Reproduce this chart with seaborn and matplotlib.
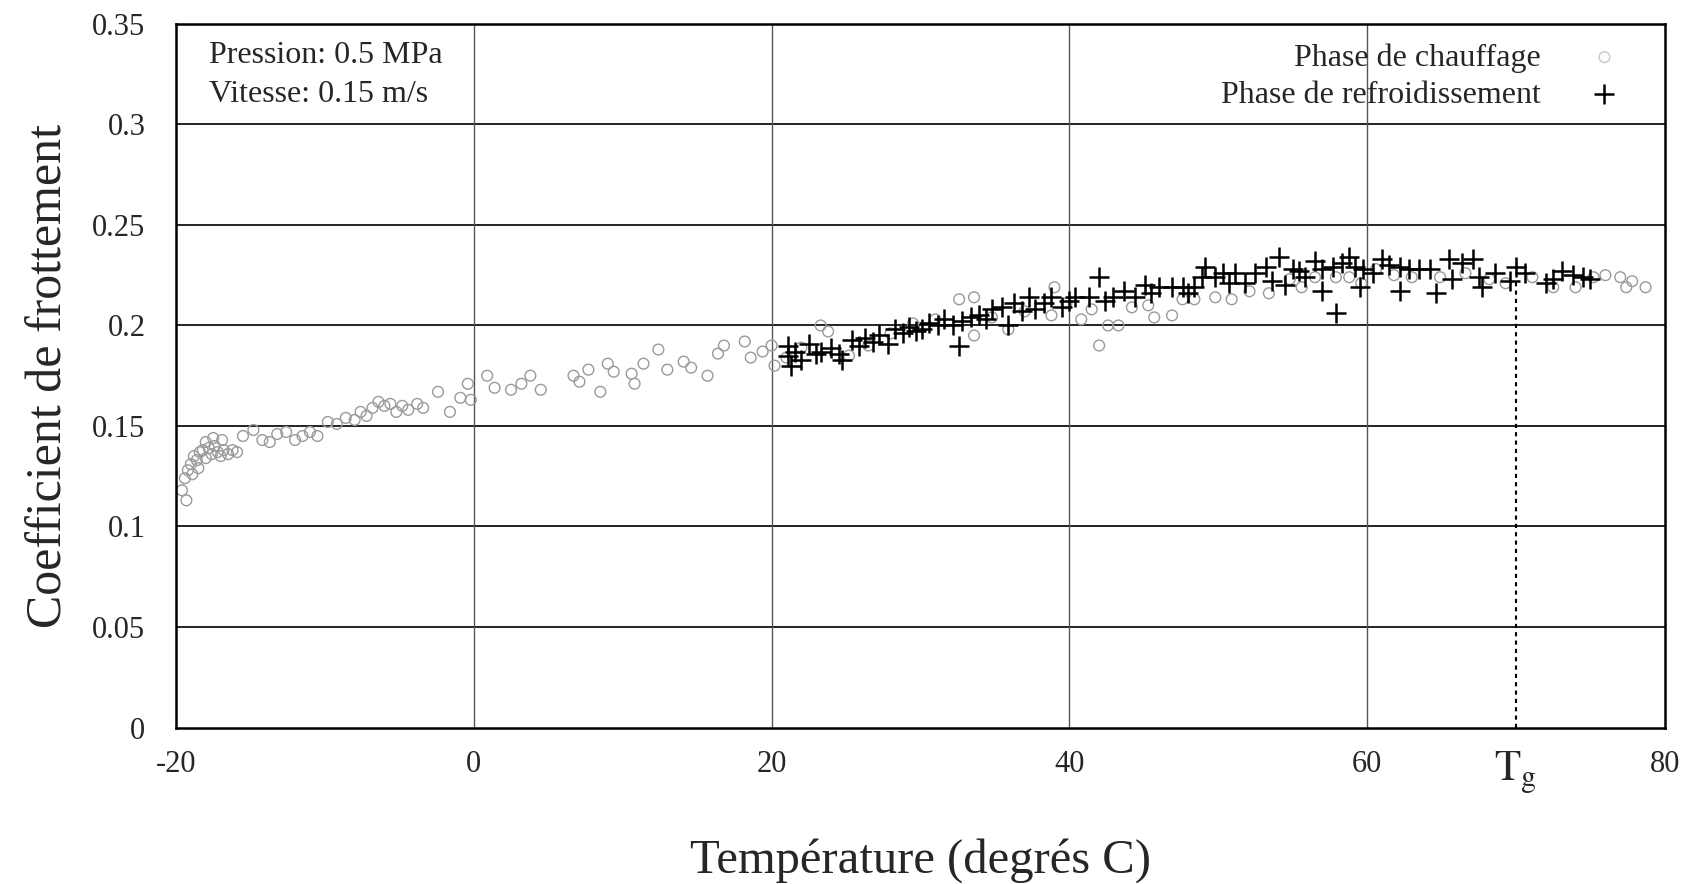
import matplotlib
matplotlib.use("Agg")
import matplotlib.pyplot as plt
import seaborn as sns
import pandas as pd

# heating phase (open gray markers)
heat_T = [-19.6, -19.4, -19.2, -19.0, -18.8, -18.6, -18.4, -18.2, -18.0, -17.8, -17.6, -17.4,
          -17.2, -17.0, -16.8, -16.5, -16.2, -15.9, -19.3, -18.9, -18.5, -18.0, -17.5, -16.9,
          -15.5, -14.8, -14.2, -13.7, -13.2, -12.6, -12.0, -11.5, -11.0, -10.5,
          -9.8, -9.2, -8.6, -8.0, -7.6, -7.2, -6.8, -6.4, -6.0, -5.6, -5.2, -4.8,
          -4.4, -3.8, -3.4, -2.4, -1.6, -0.9, -0.4, -0.2,
          0.9, 1.4, 2.5, 3.2, 3.8, 4.5, 6.7, 7.1, 7.7, 8.5, 9.0, 9.4, 10.6, 10.8, 11.4, 12.4,
          13.0, 14.1, 14.6, 15.7, 16.4, 16.8, 18.2, 18.6, 19.4, 20.0, 20.2,
          21.0, 22.0, 23.3, 23.8, 25.2, 26.5, 28.0, 29.5, 31.0, 32.6, 33.6, 33.6, 34.8, 35.9,
          37.0, 38.8, 39.0, 39.8,
          40.8, 41.5, 42.0, 42.6, 43.3, 44.2, 45.3, 45.7, 46.9, 47.6, 48.4, 49.8, 50.9, 52.1,
          53.4, 54.8, 55.6, 56.5, 57.9, 58.8, 59.6,
          60.6, 61.8, 63.0, 64.9, 66.6, 68.2, 69.3, 71.1, 72.5, 74.0, 75.2, 76.0, 77.0, 77.4,
          77.8, 78.7]
heat_f = [0.118, 0.124, 0.128, 0.131, 0.135, 0.133, 0.137, 0.138, 0.134, 0.139, 0.136, 0.140,
          0.137, 0.135, 0.138, 0.136, 0.138, 0.137, 0.113, 0.126, 0.129, 0.142, 0.144, 0.143,
          0.145, 0.148, 0.143, 0.142, 0.146, 0.147, 0.143, 0.145, 0.147, 0.145,
          0.152, 0.151, 0.154, 0.153, 0.157, 0.155, 0.159, 0.162, 0.160, 0.161, 0.157, 0.160,
          0.158, 0.161, 0.159, 0.167, 0.157, 0.164, 0.171, 0.163,
          0.175, 0.169, 0.168, 0.171, 0.175, 0.168, 0.175, 0.172, 0.178, 0.167, 0.181, 0.177,
          0.176, 0.171, 0.181, 0.188,
          0.178, 0.182, 0.179, 0.175, 0.186, 0.190, 0.192, 0.184, 0.187, 0.190, 0.180,
          0.184, 0.189, 0.200, 0.197, 0.185, 0.190, 0.196, 0.201, 0.203, 0.213, 0.214, 0.195,
          0.204, 0.198, 0.207, 0.205, 0.219, 0.211,
          0.203, 0.208, 0.190, 0.200, 0.200, 0.209, 0.210, 0.204, 0.205, 0.213, 0.213, 0.214,
          0.213, 0.217, 0.216, 0.223, 0.219, 0.224, 0.224, 0.224, 0.221,
          0.228, 0.225, 0.224, 0.224, 0.226, 0.223, 0.221, 0.224, 0.219, 0.219, 0.224, 0.225,
          0.224, 0.219, 0.222, 0.219]

# cooling phase (black crosses)
cool_T = [21.1, 21.1, 21.3, 21.6, 22.0, 22.5, 23.0, 23.3, 24.0, 24.5, 24.7, 25.4, 25.9, 26.3,
          26.8, 27.2, 27.8, 28.3, 28.8, 29.2, 29.7, 30.1, 30.6, 31.2, 31.6, 32.2, 32.6, 32.8,
          33.4, 33.9, 34.4, 34.8, 35.5, 35.9, 36.3, 36.8, 37.3, 37.7, 38.3, 38.8, 39.5, 40.0,
          40.4, 41.3, 42.0, 42.4, 42.9, 43.7, 44.4, 45.1, 45.5, 46.0, 46.9, 47.6, 48.0, 48.4,
          48.9, 49.1, 49.8, 50.3, 50.7, 51.1, 51.8, 52.5, 53.2, 53.6, 54.1, 54.5, 55.0, 55.4,
          55.8, 56.5, 57.0, 57.0, 57.7, 57.9, 58.3, 58.8, 59.2, 59.5, 59.7, 60.4, 61.0, 61.5,
          62.2, 62.2, 62.8, 63.5, 64.2, 64.6, 65.5, 65.7, 66.4, 67.1, 67.5, 67.7, 68.6, 69.6,
          70.0, 70.6, 72.0, 72.5, 73.1, 73.8, 74.5, 75.0]
cool_f = [0.190, 0.185, 0.180, 0.187, 0.183, 0.191, 0.186, 0.187, 0.189, 0.186, 0.183, 0.193,
          0.190, 0.194, 0.192, 0.195, 0.191, 0.198, 0.196, 0.199, 0.197, 0.198, 0.201, 0.200,
          0.203, 0.200, 0.190, 0.202, 0.204, 0.205, 0.203, 0.208, 0.209, 0.200, 0.211, 0.207,
          0.214, 0.208, 0.211, 0.214, 0.209, 0.212, 0.214, 0.214, 0.224, 0.212, 0.214, 0.217,
          0.214, 0.220, 0.216, 0.219, 0.219, 0.219, 0.216, 0.219, 0.224, 0.229, 0.224, 0.226,
          0.221, 0.226, 0.221, 0.226, 0.229, 0.222, 0.234, 0.220, 0.228, 0.227, 0.224, 0.232,
          0.228, 0.217, 0.229, 0.206, 0.231, 0.234, 0.229, 0.219, 0.228, 0.226, 0.233, 0.230,
          0.229, 0.217, 0.228, 0.228, 0.228, 0.216, 0.233, 0.223, 0.231, 0.233, 0.224, 0.219,
          0.226, 0.222, 0.229, 0.226, 0.221, 0.223, 0.227, 0.225, 0.224, 0.223]

x_ticks = [-20, 0, 20, 40, 60, 70, 80]
x_ticklabels = ["-20", "0", "20", "40", "60", r"$\mathrm{T_g}$", "80"]
y_ticks = [0, 0.05, 0.1, 0.15, 0.2, 0.25, 0.3, 0.35]
y_ticklabels = ["0", "0.05", "0.1", "0.15", "0.2", "0.25", "0.3", "0.35"]
Tg = 70
Tg_f = 0.222

heat = pd.DataFrame({"T": heat_T, "f": heat_f})
cool = pd.DataFrame({"T": cool_T, "f": cool_f})

sns.set_style("white")
plt.rcParams["font.family"] = ["Liberation Serif", "DejaVu Serif"]
plt.rcParams["mathtext.fontset"] = "stix"

fig = plt.figure(figsize=(16.92, 8.84), dpi=100)
ax = fig.add_axes([0.104, 0.177, 0.880, 0.796])

# grid first, behind points
for y in y_ticks[1:-1]:
    ax.axhline(y, color="#222222", lw=1.4, zorder=0)
for x in [0, 20, 40, 60]:
    ax.axvline(x, color="#555555", lw=1.0, zorder=0)
ax.plot([Tg, Tg], [0, Tg_f], color="black", ls=(0, (2, 2)), lw=1.5, zorder=1)

sns.scatterplot(data=heat, x="T", y="f", ax=ax, marker="o", s=60,
                facecolors="none", edgecolor="#9a9a9a", linewidth=1.0,
                label="Phase de chauffage", zorder=2)
sns.scatterplot(data=cool, x="T", y="f", ax=ax, marker="+", s=200,
                color="black", linewidth=1.8,
                label="Phase de refroidissement", zorder=3)

ax.set_xlim(-20, 80)
ax.set_ylim(0, 0.35)
ax.set_xticks(x_ticks)
ax.set_xticklabels(x_ticklabels)
ax.set_yticks(y_ticks)
ax.set_yticklabels(y_ticklabels)
ax.tick_params(axis="x", length=0, pad=16, labelsize=22)
ax.tick_params(axis="y", length=0, pad=22, labelsize=22)
ax.get_xticklabels()[5].set_fontsize(31)

for sp in ax.spines.values():
    sp.set_color("black")
    sp.set_linewidth(1.8)

ax.set_xlabel("Température (degrés C)", fontsize=35, labelpad=30)
ax.set_ylabel("Coefficient de frottement", fontsize=36, labelpad=14)

ax.text(0.022, 0.975, "Pression: 0.5 MPa\nVitesse: 0.15 m/s", transform=ax.transAxes,
        fontsize=23, va="top", ha="left", linespacing=1.45)

leg = ax.legend(loc="upper right", bbox_to_anchor=(0.983, 1.0), frameon=False,
                markerfirst=False, fontsize=23, handlelength=1.0, handletextpad=1.5,
                labelspacing=0.25, borderaxespad=0.2)
leg.legend_handles[0].set_edgecolor("#c8c8c8")

fig.savefig("out.png", dpi=100, facecolor="white")
